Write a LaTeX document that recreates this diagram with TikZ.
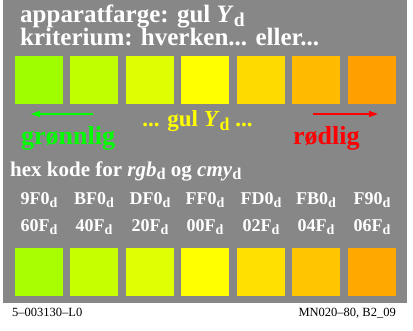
\documentclass[tikz,border=0pt]{standalone}
\usepackage{fontspec}
\setmainfont{Liberation Serif}
\usetikzlibrary{arrows.meta}
\definecolor{bg}{HTML}{878787}
\definecolor{tA}{HTML}{9FFF00}
\definecolor{tB}{HTML}{BFFF00}
\definecolor{tC}{HTML}{DDFF00}
\definecolor{tD}{HTML}{FFFF00}
\definecolor{tE}{HTML}{FFDA00}
\definecolor{tF}{HTML}{FFBB00}
\definecolor{tG}{HTML}{FFA000}
\definecolor{bA}{HTML}{A8FF00}
\definecolor{bB}{HTML}{C5FF00}
\definecolor{bC}{HTML}{E0FF00}
\definecolor{bD}{HTML}{FFFF00}
\definecolor{bE}{HTML}{FFE000}
\definecolor{bF}{HTML}{FFC500}
\definecolor{bG}{HTML}{FFA800}
\definecolor{grn}{HTML}{00FF00}
\definecolor{rd}{HTML}{FF0000}
\definecolor{yl}{HTML}{FFFF00}
\newcommand\dsb{\raisebox{-0.3ex}{\scalebox{0.78}{d}}}
\begin{document}
\begin{tikzpicture}[x=1pt,y=-1pt,
  txt/.style={inner sep=0pt,text=white,font=\bfseries},
  sq/.style={minimum width=48pt,minimum height=48pt,inner sep=0pt,draw=none},
  hex/.style={inner sep=0pt,anchor=base,text=white,font=\bfseries\fontsize{18}{20}\selectfont},
  foot/.style={inner sep=0pt,anchor=base,font=\fontsize{12.5}{14}\selectfont},
  arr/.style={line width=1.5pt,-{Triangle[length=9pt,width=6pt]}}]
\useasboundingbox (0,0) rectangle (413,331);
\fill[white] (0,0) rectangle (413,331);
\fill[bg] (3,0) rectangle (407,303);
\node[txt,anchor=base west,font=\bfseries\fontsize{25}{28}\selectfont] (t1) at (20,22.7) {apparatfarge: gul \textit{Y}\dsb};
\node[txt,anchor=base west,font=\bfseries\fontsize{25}{28}\selectfont] (t2) at (20,46) {kriterium: hverken... eller...};
\foreach \c/\x [count=\i] in {tA/39,tB/94,tC/150,tD/205,tE/261,tF/316,tG/372}{
  \node[sq,fill=\c] (top\i) at (\x,80) {};
}
\foreach \c/\x [count=\i] in {bA/39,bB/94,bC/150,bD/205,bE/261,bF/316,bG/372}{
  \node[sq,fill=\c] (bot\i) at (\x,272) {};
}
\coordinate (ga) at (93,114);
\coordinate (gb) at (31,114);
\coordinate (ra) at (313,114);
\coordinate (rb) at (378,114);
\draw[arr,grn] (ga) -- (gb);
\draw[arr,rd] (ra) -- (rb);
\node[txt,anchor=base,text=yl,font=\bfseries\fontsize{23}{26}\selectfont] (mid) at (197.5,127) {... gul \textit{Y}\dsb\ ...};
\node[txt,anchor=base west,text=grn,font=\bfseries\fontsize{26}{28}\selectfont] (gl) at (21,145) {grønnlig};
\node[txt,anchor=base west,text=rd,font=\bfseries\fontsize{26}{28}\selectfont] (rl) at (293,145) {rødlig};
\node[txt,anchor=base west,font=\bfseries\fontsize{21}{24}\selectfont] (hx) at (10,177) {hex kode for \textit{rgb}\dsb\ og \textit{cmy}\dsb};
\foreach \t/\x [count=\i] in {9F0/39,BF0/94,DF0/150,FF0/205,FD0/261,FB0/316,F90/372}{
  \node[hex] (h\i) at (\x,205) {\t\dsb};
}
\foreach \t/\x [count=\i] in {60F/39,40F/94,20F/150,00F/205,02F/261,04F/316,06F/372}{
  \node[hex] (k\i) at (\x,232) {\t\dsb};
}
\node[foot,anchor=base west] (fl) at (12,316.7) {5–003130–L0};
\node[foot,anchor=base east] (fr) at (396,316.7) {MN020–80, B2\_09};
\end{tikzpicture}
\end{document}
